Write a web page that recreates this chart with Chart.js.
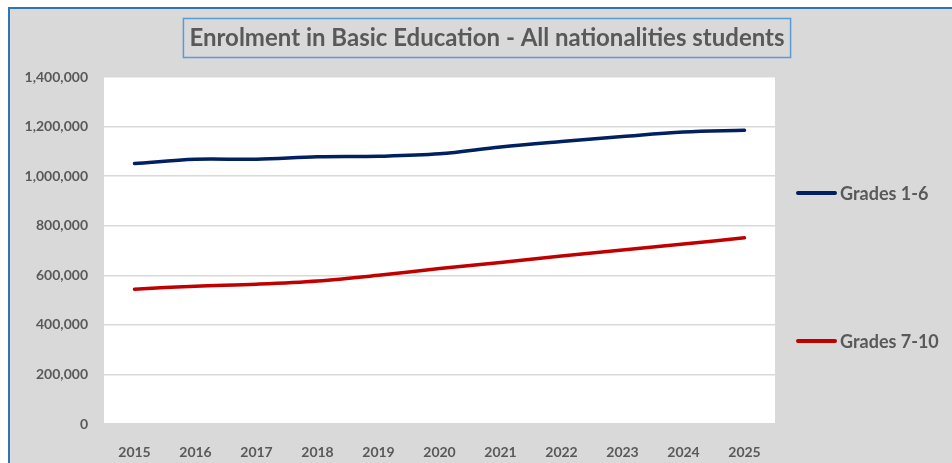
<!DOCTYPE html>
<html>
<head>
<meta charset="utf-8">
<script src="https://cdn.jsdelivr.net/npm/chart.js@4.4.1/dist/chart.umd.min.js"></script>
<style>
  html, body { margin: 0; padding: 0; background: #fff; }
  body { width: 952px; height: 463px; overflow: hidden; position: relative; }
  #frame {
    position: absolute; left: 8px; top: 7px; width: 944px; height: 456px;
    background: #d9d9d9;
    border-left: 2px solid #2e75b6; border-top: 2px solid #2e75b6;
  }
  #wrap { position: absolute; left: 0; top: 0; width: 942px; height: 454px; }
</style>
</head>
<body>
<div id="frame"><div id="wrap"><canvas id="enrolChart"></canvas></div></div>
<script>
// Enrolment figures by school year
const years = ['2015', '2016', '2017', '2018', '2019', '2020', '2021', '2022', '2023', '2024', '2025'];
const grades1to6 = [1051000, 1068000, 1068000, 1078000, 1080000, 1090000, 1118000, 1140000, 1160000, 1178000, 1185000];
const grades7to10 = [544000, 556000, 564000, 577000, 600000, 627000, 652000, 678000, 702000, 726000, 751000];
const seriesNames = ['Grades 1-6', 'Grades 7-10'];
const chartTitle = 'Enrolment in Basic Education - All nationalities students';

const TEXT = '#595959';
const FONT = 'Lato, "Open Sans", sans-serif';

// White plot background behind the lines
const plotBg = {
  id: 'plotBg',
  beforeDraw(chart) {
    const { ctx, chartArea: a } = chart;
    ctx.save();
    ctx.fillStyle = '#ffffff';
    ctx.fillRect(a.left, a.top, a.right - a.left, a.bottom - a.top);
    ctx.restore();
  }
};

// Boxed title and right-hand legend
const decorations = {
  id: 'decorations',
  afterDraw(chart) {
    const { ctx } = chart;
    ctx.save();
    ctx.font = `bold 24px ${FONT}`;
    ctx.textAlign = 'center';
    ctx.textBaseline = 'middle';
    const cx = 477, cy = 29;
    const w = ctx.measureText(chartTitle).width;
    ctx.fillStyle = TEXT;
    ctx.fillText(chartTitle, cx, cy);
    ctx.strokeStyle = '#5b9bd5';
    ctx.lineWidth = 1.5;
    ctx.strokeRect(cx - w / 2 - 6, 9.5, w + 12, 39);

    const rows = [184, 332];
    chart.data.datasets.forEach((ds, i) => {
      ctx.strokeStyle = ds.borderColor;
      ctx.lineWidth = 4;
      ctx.lineCap = 'round';
      ctx.beginPath();
      ctx.moveTo(788, rows[i]);
      ctx.lineTo(825, rows[i]);
      ctx.stroke();
      ctx.font = `bold 18px ${FONT}`;
      ctx.textAlign = 'left';
      ctx.fillStyle = TEXT;
      ctx.fillText(ds.label, 830, rows[i] + 1);
    });
    ctx.restore();
  }
};

new Chart(document.getElementById('enrolChart'), {
  type: 'line',
  data: {
    labels: years,
    datasets: [
      { label: seriesNames[0], data: grades1to6, borderColor: '#002060', backgroundColor: '#002060' },
      { label: seriesNames[1], data: grades7to10, borderColor: '#c00000', backgroundColor: '#c00000' }
    ]
  },
  options: {
    responsive: true,
    maintainAspectRatio: false,
    animation: false,
    layout: { padding: { left: 0, right: 177, top: 68, bottom: 0 } },
    elements: {
      line: { borderWidth: 3.5, tension: 0.35, borderCapStyle: 'round' },
      point: { radius: 0 }
    },
    plugins: {
      legend: { display: false },
      title: { display: false },
      tooltip: { enabled: false }
    },
    scales: {
      x: {
        offset: true,
        grid: { display: false },
        border: { display: false },
        ticks: { color: TEXT, font: { family: FONT, size: 14, weight: 'bold' }, padding: 12, maxRotation: 0 },
        afterFit(scale) { scale.height = 39; }
      },
      y: {
        min: 0,
        max: 1400000,
        ticks: {
          stepSize: 200000,
          color: TEXT,
          font: { family: FONT, size: 14, weight: 'bold' },
          padding: 16,
          callback: v => v.toLocaleString('en-US')
        },
        grid: { color: '#d9d9d9', lineWidth: 1.5, drawTicks: false },
        border: { display: false },
        afterFit(scale) { scale.width = 94; }
      }
    }
  },
  plugins: [plotBg, decorations]
});
</script>
</body>
</html>
